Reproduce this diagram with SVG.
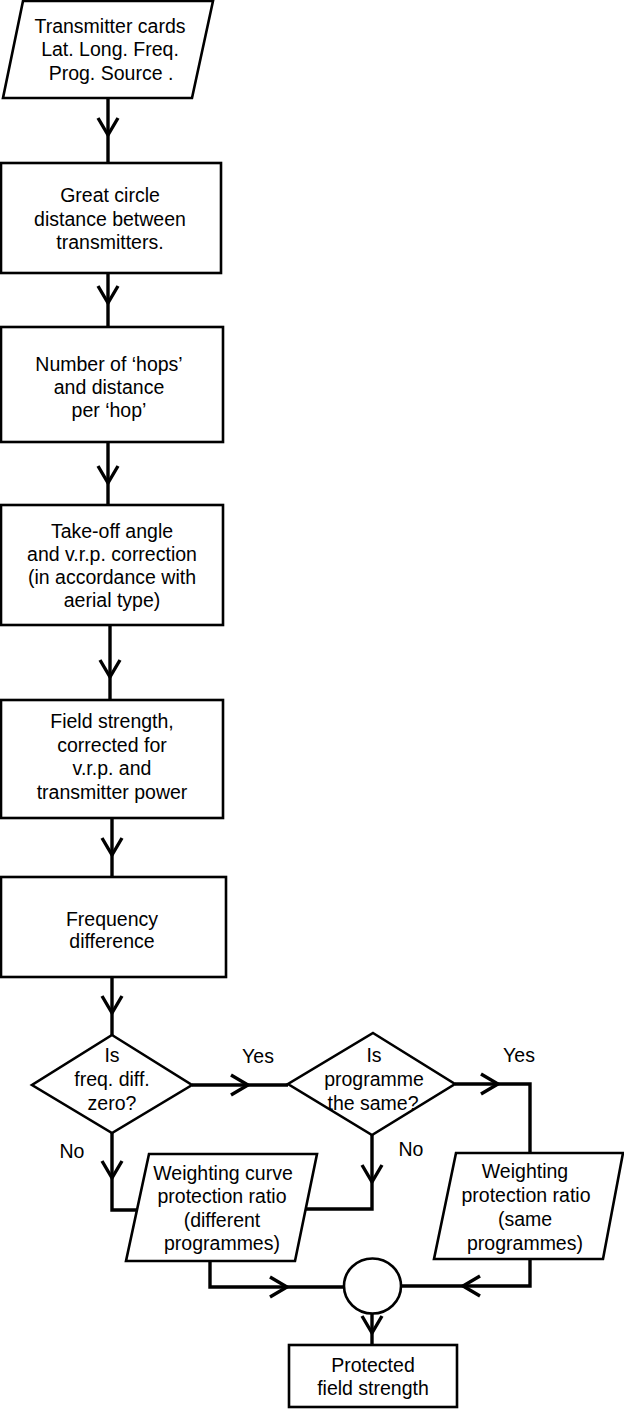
<svg xmlns="http://www.w3.org/2000/svg" xmlns:xlink="http://www.w3.org/1999/xlink" width="624" height="1415" viewBox="0 0 624 1415">
<style>
  .shape { fill: #fff; stroke: #000; stroke-width: 2.6; stroke-linejoin: miter; }
  .conn { fill: none; stroke: #000; stroke-width: 3.4; stroke-linejoin: miter; }
  .lbl { font-family: "Liberation Sans", Arial, sans-serif; font-size: 19.5px; fill: #000; text-anchor: middle; }
</style>
<defs>
  <path id="chev" d="M-10,-17 L0,0 L10,-17" fill="none" stroke="#000" stroke-width="3.4" stroke-linejoin="miter"/>
</defs>
<rect width="624" height="1415" fill="#fff"/>

<g id="connectors">
  <path class="conn" d="M108,98 V163"/>
  <use xlink:href="#chev" transform="translate(108,135)"/>
  <path class="conn" d="M108,273 V327"/>
  <use xlink:href="#chev" transform="translate(108,303)"/>
  <path class="conn" d="M108,442 V505"/>
  <use xlink:href="#chev" transform="translate(108,483)"/>
  <path class="conn" d="M110,625 V700"/>
  <use xlink:href="#chev" transform="translate(110,677)"/>
  <path class="conn" d="M112,818 V877"/>
  <use xlink:href="#chev" transform="translate(112,855)"/>
  <path class="conn" d="M112,977 V1035"/>
  <use xlink:href="#chev" transform="translate(112,1013)"/>
  <!-- Yes 1 -->
  <path class="conn" d="M192,1085 H288"/>
  <use xlink:href="#chev" transform="translate(248,1085) rotate(-90)"/>
  <!-- Yes 2 -->
  <path class="conn" d="M455,1084 H530 V1153"/>
  <use xlink:href="#chev" transform="translate(498,1084) rotate(-90)"/>
  <!-- No 1 -->
  <path class="conn" d="M112,1133 V1210 H138"/>
  <use xlink:href="#chev" transform="translate(112,1178)"/>
  <!-- No 2 -->
  <path class="conn" d="M372,1135 V1209 H306"/>
  <use xlink:href="#chev" transform="translate(372,1182)"/>
  <!-- to circle -->
  <path class="conn" d="M210,1261 V1287 H344"/>
  <use xlink:href="#chev" transform="translate(287,1287) rotate(-90)"/>
  <path class="conn" d="M530,1259 V1286 H401"/>
  <use xlink:href="#chev" transform="translate(463,1286) rotate(90)"/>
  <!-- circle to result -->
  <path class="conn" d="M372,1313 V1345"/>
  <use xlink:href="#chev" transform="translate(372,1333)"/>
  <text class="lbl" x="258" y="1063">Yes</text>
  <text class="lbl" x="519" y="1062">Yes</text>
  <text class="lbl" x="72" y="1158">No</text>
  <text class="lbl" x="411" y="1156">No</text>
</g>

<g id="n1">
  <polygon class="shape" points="23,1 213,1 192,98 3,98"/>
  <text class="lbl" x="110" y="33">Transmitter cards</text>
  <text class="lbl" x="110" y="56">Lat. Long. Freq.</text>
  <text class="lbl" x="111" y="80">Prog. Source .</text>
</g>

<g id="n2">
  <rect class="shape" x="1" y="163" width="220" height="110"/>
  <text class="lbl" x="110" y="202">Great circle</text>
  <text class="lbl" x="110" y="226">distance between</text>
  <text class="lbl" x="110" y="249">transmitters.</text>
</g>

<g id="n3">
  <rect class="shape" x="1" y="327" width="222" height="115"/>
  <text class="lbl" x="109" y="371">Number of ‘hops’</text>
  <text class="lbl" x="109" y="394">and distance</text>
  <text class="lbl" x="109" y="417">per ‘hop’</text>
</g>

<g id="n4">
  <rect class="shape" x="1" y="505" width="222" height="120"/>
  <text class="lbl" x="112" y="538">Take-off angle</text>
  <text class="lbl" x="112" y="561">and v.r.p. correction</text>
  <text class="lbl" x="112" y="584">(in accordance with</text>
  <text class="lbl" x="112" y="607">aerial type)</text>
</g>

<g id="n5">
  <rect class="shape" x="1" y="700" width="222" height="118"/>
  <text class="lbl" x="112" y="728">Field strength,</text>
  <text class="lbl" x="112" y="752">corrected for</text>
  <text class="lbl" x="112" y="775">v.r.p. and</text>
  <text class="lbl" x="112" y="799">transmitter power</text>
</g>

<g id="n6">
  <rect class="shape" x="1" y="877" width="225" height="100"/>
  <text class="lbl" x="112" y="926">Frequency</text>
  <text class="lbl" x="112" y="948">difference</text>
</g>

<g id="d1">
  <polygon class="shape" points="112,1035 192,1085 112,1133 32,1085"/>
  <text class="lbl" x="112" y="1062">Is</text>
  <text class="lbl" x="112" y="1086">freq. diff.</text>
  <text class="lbl" x="112" y="1110">zero?</text>
</g>

<g id="d2">
  <polygon class="shape" points="373,1033 455,1084 372,1135 288,1084"/>
  <text class="lbl" x="374" y="1062">Is</text>
  <text class="lbl" x="374" y="1086">programme</text>
  <text class="lbl" x="373" y="1110">the same?</text>
</g>

<g id="p2">
  <polygon class="shape" points="149,1154 317,1154 295,1261 126,1261"/>
  <text class="lbl" x="223" y="1180">Weighting curve</text>
  <text class="lbl" x="222" y="1203">protection ratio</text>
  <text class="lbl" x="222" y="1227">(different</text>
  <text class="lbl" x="222" y="1250">programmes)</text>
</g>

<g id="p3">
  <polygon class="shape" points="456,1153 623,1153 603,1259 434,1259"/>
  <text class="lbl" x="525" y="1178">Weighting</text>
  <text class="lbl" x="526" y="1202">protection ratio</text>
  <text class="lbl" x="525" y="1226">(same</text>
  <text class="lbl" x="525" y="1250">programmes)</text>
</g>

<g id="junction">
  <ellipse class="shape" cx="372.5" cy="1286" rx="28.5" ry="27.5"/>
</g>

<g id="result">
  <rect class="shape" x="289" y="1345" width="168" height="62"/>
  <text class="lbl" x="373" y="1372">Protected</text>
  <text class="lbl" x="373" y="1395">field strength</text>
</g>
</svg>
